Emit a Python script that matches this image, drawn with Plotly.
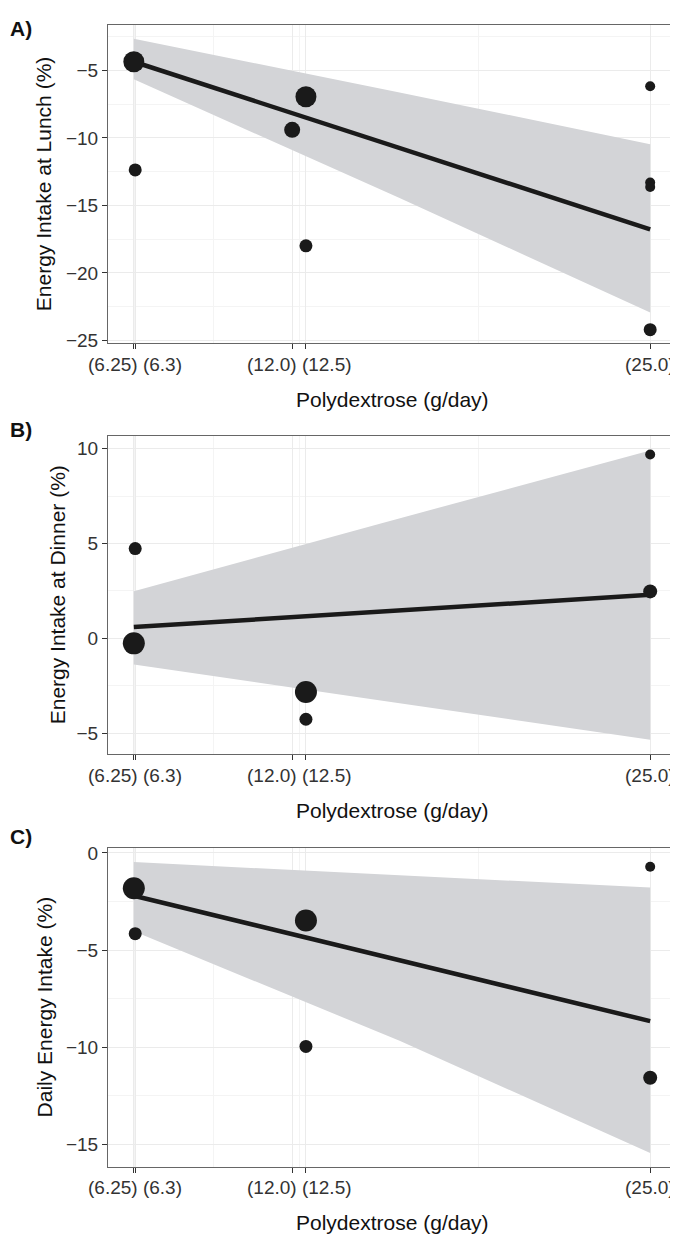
import plotly.graph_objects as go

# ---------------- data ----------------
# Panel A: Energy intake at lunch
a_x = [6.25, 6.3, 12.0, 12.5, 12.5, 25.0, 25.0, 25.0, 25.0]
a_y = [-4.36, -12.37, -9.4, -6.95, -17.99, -6.17, -13.3, -13.64, -24.2]
a_w = [21, 13, 16, 21, 13, 10, 10, 10, 13]
a_fit_x = [6.25, 25.0]
a_fit_y = [-4.36, -16.77]
a_band_x = [6.25, 15.9, 25.0]
a_band_hi = [-2.66, -6.63, -10.47]
a_band_lo = [-5.66, -14.45, -22.93]

# Panel B: Energy intake at dinner
b_x = [6.25, 6.3, 12.5, 12.5, 25.0, 25.0]
b_y = [-0.27, 4.73, -2.83, -4.27, 9.69, 2.47]
b_w = [22, 13, 22, 13, 10, 14]
b_fit_x = [6.25, 25.0]
b_fit_y = [0.59, 2.29]
b_band_x = [6.25, 15.15, 25.0]
b_band_hi = [2.48, 6.03, 9.9]
b_band_lo = [-1.38, -3.27, -5.35]

# Panel C: Daily energy intake
c_x = [6.25, 6.3, 12.5, 12.5, 25.0, 25.0]
c_y = [-1.81, -4.15, -3.47, -9.95, -0.71, -11.56]
c_w = [22, 13, 22, 13, 10, 14]
c_fit_x = [6.25, 25.0]
c_fit_y = [-2.2, -8.65]
c_band_x = [6.25, 15.9, 25.0]
c_band_hi = [-0.47, -1.15, -1.78]
c_band_lo = [-4.03, -9.66, -15.43]

x_breaks = [6.25, 6.3, 12.0, 12.5, 25.0]
x_minor = [6.275, 9.15, 12.25, 18.75]
x_label_pos = [6.275, 12.25, 25.0]
x_label_txt = ["(6.25) (6.3)", "(12.0) (12.5)", "(25.0)"]

panel_tags = ["A)", "B)", "C)"]
y_titles = ["Energy Intake at Lunch (%)", "Energy Intake at Dinner (%)", "Daily Energy Intake (%)"]
x_title = "Polydextrose (g/day)"

y_ticks = [[-25, -20, -15, -10, -5], [-5, 0, 5, 10], [-15, -10, -5, 0]]
y_minor = [[-22.5, -17.5, -12.5, -7.5, -2.5], [-2.5, 2.5, 7.5], [-12.5, -7.5, -2.5]]
y_ranges = [[-25.22, -1.63], [-6.11, 10.64], [-16.14, 0.25]]
x_range = [5.3125, 25.9375]

# ---------------- layout geometry ----------------
# the page body has an 8px margin, so the figure is drawn 8px smaller and
# all reference pixel positions are shifted by -8
OFF = 8
W, H = 678 - OFF, 1243 - OFF
x_dom = [(108 - OFF) / W, (676 - OFF) / W]
y_doms = [[1 - (342 - OFF) / H, 1 - (20 - OFF) / H],
          [1 - (757 - OFF) / H, 1 - (436 - OFF) / H],
          [1 - (1174 - OFF) / H, 1 - (852 - OFF) / H]]
tag_tops = [10 - OFF, 415 - OFF, 827 - OFF]
ytitle_x = [43 - OFF, 57 - OFF, 44 - OFF]

FONT = "Liberation Sans, Arial, Helvetica, sans-serif"
BAND = "rgb(211,212,215)"
INK = "#1a1a1a"

panels = [
    (a_x, a_y, a_w, a_fit_x, a_fit_y, a_band_x, a_band_hi, a_band_lo),
    (b_x, b_y, b_w, b_fit_x, b_fit_y, b_band_x, b_band_hi, b_band_lo),
    (c_x, c_y, c_w, c_fit_x, c_fit_y, c_band_x, c_band_hi, c_band_lo),
]

fig = go.Figure()
annotations = []
layout_axes = {}

for i, (px, py, pw, fx, fy, bx, bhi, blo) in enumerate(panels):
    n = "" if i == 0 else str(i + 1)
    xa, ya = "x" + n, "y" + n
    # confidence band
    fig.add_trace(go.Scatter(
        x=list(bx) + list(bx)[::-1], y=list(bhi) + list(blo)[::-1],
        xaxis=xa, yaxis=ya, mode="lines", fill="toself", fillcolor=BAND,
        line=dict(width=0, color=BAND), hoverinfo="skip", showlegend=False))
    # regression line
    fig.add_trace(go.Scatter(
        x=fx, y=fy, xaxis=xa, yaxis=ya, mode="lines",
        line=dict(color=INK, width=4.5), showlegend=False))
    # points
    fig.add_trace(go.Scatter(
        x=px, y=py, xaxis=xa, yaxis=ya, mode="markers",
        marker=dict(color=INK, size=pw, opacity=1, line=dict(width=0)), showlegend=False))

    layout_axes["xaxis" + n] = dict(
        domain=x_dom, anchor=ya, range=x_range, tickvals=x_breaks,
        showticklabels=False, ticks="outside", ticklen=5, tickwidth=1, tickcolor="#333",
        showgrid=True, gridcolor="#EBEBEB", gridwidth=1,
        minor=dict(tickvals=x_minor, showgrid=True, gridcolor="#F4F4F4", gridwidth=1, ticks=""),
        showline=True, mirror=True, linecolor="#666", linewidth=1, zeroline=False)
    layout_axes["yaxis" + n] = dict(
        domain=y_doms[i], anchor=xa, range=y_ranges[i], tickvals=y_ticks[i],
        ticks="outside", ticklen=5, tickwidth=1, tickcolor="#333",
        tickfont=dict(family=FONT, size=19, color="#333"),
        showgrid=True, gridcolor="#EBEBEB", gridwidth=1,
        minor=dict(tickvals=y_minor[i], showgrid=True, gridcolor="#F4F4F4", gridwidth=1, ticks=""),
        showline=True, mirror=True, linecolor="#666", linewidth=1, zeroline=False)

    # x tick labels
    for pos, txt in zip(x_label_pos, x_label_txt):
        annotations.append(dict(
            x=pos, xref=xa, y=0, yref=ya + " domain", yshift=-21,
            text=txt, showarrow=False, xanchor="center", yanchor="middle",
            font=dict(family=FONT, size=19, color="#333")))
    # x title
    annotations.append(dict(
        x=0.5, xref=xa + " domain", y=0, yref=ya + " domain", yshift=-56,
        text=x_title, showarrow=False, xanchor="center", yanchor="middle",
        font=dict(family=FONT, size=21, color="#111")))
    # y title
    annotations.append(dict(
        x=ytitle_x[i] / W, xref="paper", y=sum(y_doms[i]) / 2, yref="paper",
        text=y_titles[i], textangle=-90, showarrow=False,
        xanchor="center", yanchor="middle",
        font=dict(family=FONT, size=21, color="#111")))
    # panel tag
    annotations.append(dict(
        x=0, xref="paper", y=1 - tag_tops[i] / H, yref="paper",
        text="<b>" + panel_tags[i] + "</b>", showarrow=False,
        xanchor="left", yanchor="top",
        font=dict(family=FONT, size=21, color="#111")))

fig.update_layout(
    width=W, height=H, autosize=False,
    margin=dict(l=0, r=0, t=0, b=0),
    paper_bgcolor="white", plot_bgcolor="white",
    showlegend=False, annotations=annotations, **layout_axes)

fig.write_html("out.html")
